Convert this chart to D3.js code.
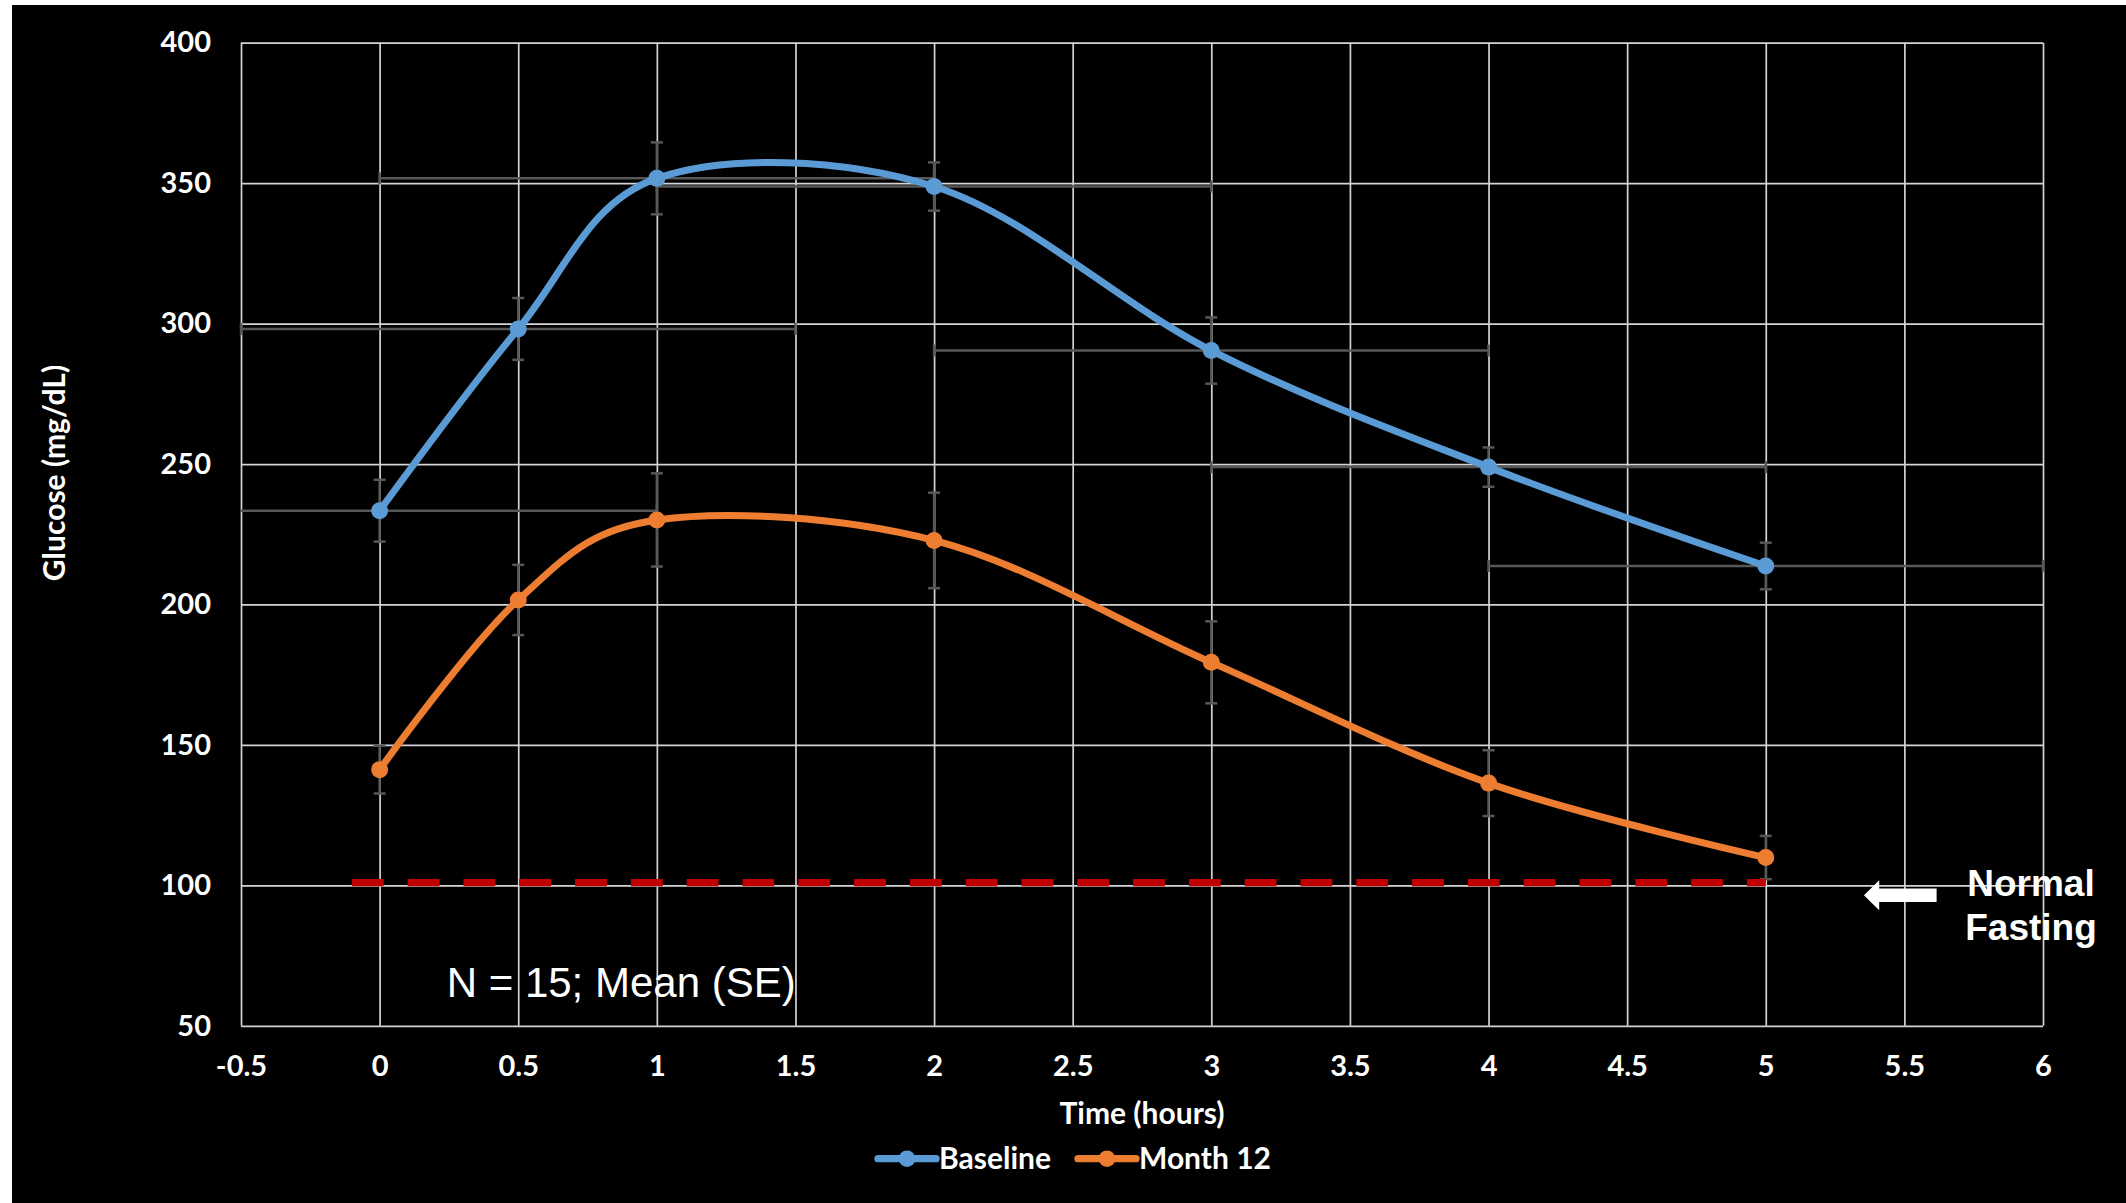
<!DOCTYPE html>
<html>
<head>
<meta charset="utf-8">
<script src="https://cdn.jsdelivr.net/npm/d3@7"></script>
<style>
  body { margin: 0; background: #fff; }
  svg { display: block; }
  .tick text { font-family: Lato, "Open Sans", sans-serif; font-weight: 700; font-size: 29px; fill: #fff; }
  .tick line { stroke: #d4d4d4; stroke-width: 1.7px; }
</style>
</head>
<body>
<div id="chart"></div>
<script>
// glucose curve
const hours = [0, 0.5, 1, 2, 3, 4, 5];
const baseline = [233.4, 298.1, 351.7, 348.8, 290.4, 248.9, 213.7];
const baselineSE = [11, 11, 12.8, 8.6, 11.8, 7, 8.3];
const baselineXErr = [1, 1, 1, 1, 1, 1, 1];   // horizontal bars, hours
const month12 = [141.2, 201.6, 230.1, 222.8, 179.4, 136.4, 109.9];
const month12SE = [8.5, 12.5, 16.6, 17, 14.6, 11.7, 7.7];

const seriesNames = ["Baseline", "Month 12"];
const seriesColors = ["#5B9BD5", "#ED7D31"];

const xTicks = [-0.5, 0, 0.5, 1, 1.5, 2, 2.5, 3, 3.5, 4, 4.5, 5, 5.5, 6];
const yTicks = [50, 100, 150, 200, 250, 300, 350, 400];

const normalFasting = [[-0.1, 101], [5, 101]];
const arrowTip = [5.354, 96.5];
const noteAt = [0.242, 60.4];

const width = 2126, height = 1203;
const plotL = 241, plotR = 2043, plotT = 42.7, plotB = 1025.8;

const svg = d3.select("#chart").append("svg")
  .attr("width", width)
  .attr("height", height);

// black slide with a thin white edge top/left
svg.append("rect").attr("x", 12).attr("y", 5)
  .attr("width", width - 12).attr("height", height - 5)
  .attr("fill", "#000");

const x = d3.scaleLinear().domain([-0.5, 6]).range([plotL, plotR]);
const y = d3.scaleLinear().domain([50, 400]).range([plotB, plotT]);

const plainNum = d => String(d);   // "-0.5", "0", "1" like Excel

// axes + gridlines
svg.append("g")
  .attr("transform", `translate(0,${plotB})`)
  .call(d3.axisBottom(x).tickValues(xTicks).tickFormat(plainNum)
    .tickSize(-(plotB - plotT)).tickSizeOuter(0).tickPadding(30))
  .call(g => g.select(".domain").remove());

svg.append("g")
  .attr("transform", `translate(${plotL},0)`)
  .call(d3.axisLeft(y).tickValues(yTicks).tickFormat(plainNum)
    .tickSize(-(plotR - plotL)).tickSizeOuter(0).tickPadding(30))
  .call(g => g.select(".domain").remove());

// error bars
const errColor = "#575757", cap = 6;
const errG = svg.append("g").attr("stroke", errColor).attr("stroke-width", 2.5).attr("fill", "none");

function vBars(vals, se) {
  hours.forEach((h, i) => {
    const hi = y(vals[i] + se[i]), lo = y(vals[i] - se[i]), cx = x(h);
    errG.append("line").attr("x1", cx).attr("x2", cx).attr("y1", hi).attr("y2", lo);
    errG.append("line").attr("x1", cx - cap).attr("x2", cx + cap).attr("y1", hi).attr("y2", hi);
    errG.append("line").attr("x1", cx - cap).attr("x2", cx + cap).attr("y1", lo).attr("y2", lo);
  });
}
vBars(baseline, baselineSE);
vBars(month12, month12SE);

// horizontal bars on baseline, clipped to the plot
hours.forEach((h, i) => {
  const a = h - baselineXErr[i], b = h + baselineXErr[i];
  const x1 = x(Math.max(a, -0.5)), x2 = x(Math.min(b, 6)), cy = y(baseline[i]);
  errG.append("line").attr("x1", x1).attr("x2", x2).attr("y1", cy).attr("y2", cy);
  if (a >= -0.5) errG.append("line").attr("x1", x1).attr("x2", x1).attr("y1", cy - cap).attr("y2", cy + cap);
  if (b <= 6) errG.append("line").attr("x1", x2).attr("x2", x2).attr("y1", cy - cap).attr("y2", cy + cap);
});

// normal fasting reference
svg.append("path")
  .attr("d", d3.line().x(d => x(d[0])).y(d => y(d[1]))(normalFasting))
  .attr("stroke", "#C00000").attr("stroke-width", 7.3)
  .attr("stroke-dasharray", "31.8,24").attr("fill", "none");

// series
const line = d3.line()
  .x(d => x(d[0])).y(d => y(d[1]))
  .curve(d3.curveCatmullRom.alpha(0));

[baseline, month12].forEach((vals, s) => {
  const pts = hours.map((h, i) => [h, vals[i]]);
  svg.append("path").attr("d", line(pts))
    .attr("fill", "none").attr("stroke", seriesColors[s])
    .attr("stroke-width", 7).attr("stroke-linecap", "round");
  svg.append("g").selectAll("circle").data(pts).join("circle")
    .attr("cx", d => x(d[0])).attr("cy", d => y(d[1])).attr("r", 8.5)
    .attr("fill", seriesColors[s]);
});

// arrow + label
const tx = x(arrowTip[0]), ty = y(arrowTip[1]);
svg.append("path")
  .attr("d", `M${tx},${ty} L${tx + 15.3},${ty - 15} L${tx + 15.3},${ty - 6.7} L${tx + 72.7},${ty - 6.7}
              L${tx + 72.7},${ty + 6.7} L${tx + 15.3},${ty + 6.7} L${tx + 15.3},${ty + 15} Z`)
  .attr("fill", "#fff");

const nf = svg.append("text")
  .attr("text-anchor", "middle")
  .attr("font-family", "'Liberation Sans', Arial, sans-serif")
  .attr("font-weight", 700).attr("font-size", 37).attr("fill", "#fff");
nf.append("tspan").attr("x", 2031).attr("y", 896).text("Normal");
nf.append("tspan").attr("x", 2031).attr("y", 940).text("Fasting");

svg.append("text")
  .attr("x", x(noteAt[0])).attr("y", y(noteAt[1]))
  .attr("font-family", "'Liberation Sans', Arial, sans-serif")
  .attr("font-size", 42).attr("fill", "#fff")
  .text("N = 15; Mean (SE)");

// axis titles
const titleFont = "Lato, 'Open Sans', sans-serif";
svg.append("text")
  .attr("x", (plotL + plotR) / 2).attr("y", 1124)
  .attr("text-anchor", "middle")
  .attr("font-family", titleFont).attr("font-weight", 700).attr("font-size", 30).attr("fill", "#fff")
  .text("Time (hours)");

svg.append("text")
  .attr("transform", "translate(65,473) rotate(-90)")
  .attr("text-anchor", "middle")
  .attr("font-family", titleFont).attr("font-weight", 700).attr("font-size", 30).attr("fill", "#fff")
  .text("Glucose (mg/dL)");

// legend
const legendX = [878, 1078], legendY = 1158.7;
seriesNames.forEach((name, s) => {
  const g = svg.append("g").attr("transform", `translate(${legendX[s]},${legendY})`);
  g.append("line").attr("x1", 0).attr("x2", 58).attr("y1", 0).attr("y2", 0)
    .attr("stroke", seriesColors[s]).attr("stroke-width", 7.3).attr("stroke-linecap", "round");
  g.append("circle").attr("cx", 29).attr("r", 8.3).attr("fill", seriesColors[s]);
  g.append("text").attr("x", 61).attr("y", 10.5)
    .attr("font-family", titleFont).attr("font-weight", 700).attr("font-size", 30).attr("fill", "#fff")
    .text(name);
});
</script>
</body>
</html>
